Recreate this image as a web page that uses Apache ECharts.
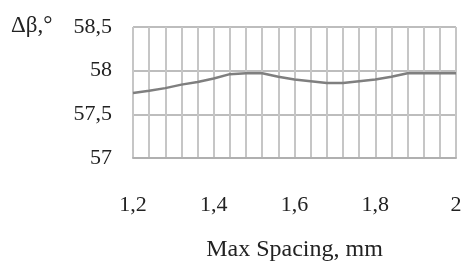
<!DOCTYPE html>
<html>
<head>
<meta charset="utf-8">
<script src="https://cdn.jsdelivr.net/npm/echarts@6/dist/echarts.min.js"></script>
<style>
  html, body { margin: 0; padding: 0; background: #fff; }
  #chart { width: 462px; height: 266px; }
</style>
</head>
<body>
<div id="chart"></div>
<script>
// 数据：x = Max Spacing (mm), y = Δβ (°)
const spacing = [1.2, 1.24, 1.28, 1.32, 1.36, 1.4, 1.44, 1.48, 1.52, 1.56, 1.6,
                 1.64, 1.68, 1.72, 1.76, 1.8, 1.84, 1.88, 1.92, 1.96, 2.0];
const deltaBeta = [57.745, 57.77, 57.80, 57.84, 57.87, 57.91, 57.96, 57.97, 57.97, 57.93, 57.90,
                   57.88, 57.86, 57.86, 57.88, 57.90, 57.93, 57.97, 57.97, 57.97, 57.97];
const xTicks = [1.2, 1.4, 1.6, 1.8, 2];
const yTicks = [57, 57.5, 58, 58.5];

const FONT = '"Liberation Serif", "DejaVu Serif", serif';
const comma = (v) => String(+v.toFixed(2)).replace('.', ',');

const chart = echarts.init(document.getElementById('chart'));
chart.setOption({
  animation: false,
  grid: { left: 133, right: 6, top: 27, bottom: 108, outerBoundsMode: 'none', containLabel: false },
  xAxis: {
    type: 'value', min: 1.2, max: 2, interval: 0.04,
    name: 'Max Spacing, mm', nameLocation: 'middle', nameGap: 80,
    nameTextStyle: { fontFamily: FONT, fontSize: 24, color: '#222' },
    axisLine: { show: true, lineStyle: { color: '#b0b0b0', width: 2 } },
    axisTick: { show: false },
    axisLabel: {
      margin: 36, fontFamily: FONT, fontSize: 22, color: '#222',
      formatter: (v) => xTicks.some((t) => Math.abs(t - v) < 1e-6) ? comma(v) : ''
    },
    splitLine: { show: true, lineStyle: { color: '#c6c6c6', width: 2 } }
  },
  yAxis: {
    type: 'value', min: 57, max: 58.5, interval: 0.5,
    axisLine: { show: false },
    axisTick: { show: false },
    axisLabel: {
      margin: 21, fontFamily: FONT, fontSize: 22, color: '#222',
      formatter: (v) => yTicks.includes(v) ? comma(v) : ''
    },
    splitLine: { show: true, lineStyle: { color: '#bdbdbd', width: 2 } }
  },
  graphic: [{
    type: 'text', left: 11, top: 14,
    style: { text: 'Δβ,°', fontFamily: FONT, fontSize: 23, fill: '#222' }
  }],
  series: [{
    type: 'line',
    data: spacing.map((x, i) => [x, deltaBeta[i]]),
    showSymbol: false,
    lineStyle: { color: '#7f7f7f', width: 2.5 }
  }]
});
</script>
</body>
</html>
